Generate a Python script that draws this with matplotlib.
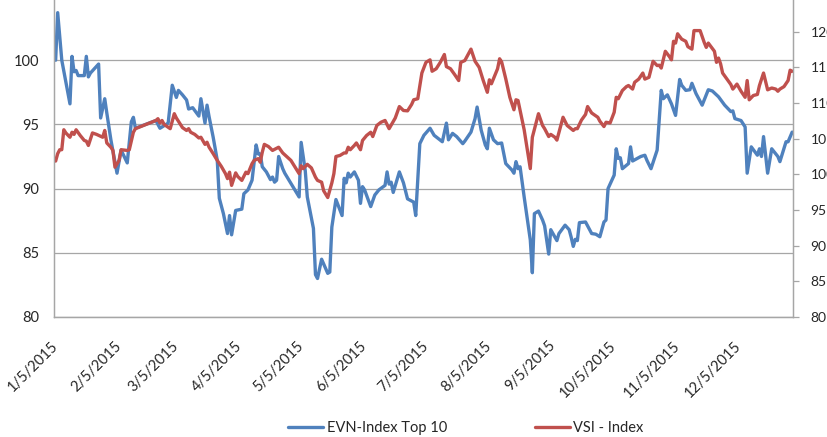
import matplotlib
matplotlib.use("Agg")
import matplotlib.pyplot as plt
import pandas as pd

plt.rcParams['font.family'] = ['Lato', 'DejaVu Sans']

# ---- data (day of year 2015, value) ----
evn_day = [
    5, 6, 8, 12, 13, 14, 15, 16, 19, 20,
    21, 22, 26, 27, 29, 30, 32, 35, 37, 40,
    42, 43, 44, 54, 56, 60, 62, 64, 65, 67,
    69, 70, 72, 75, 76, 78, 79, 80, 82, 84,
    85, 87, 89, 90, 91, 93, 96, 97, 99, 101,
    103, 104, 105, 106, 108, 110, 111, 112, 113, 114,
    116, 117, 124, 125, 127, 128, 131, 132, 133, 135,
    138, 139, 140, 142, 145, 146, 147, 148, 149, 151,
    153, 154, 155, 156, 159, 161, 163, 166, 167, 168,
    169, 170, 173, 175, 177, 180, 181, 183, 185, 188,
    190, 194, 196, 197, 199, 201, 204, 205, 208, 210,
    211, 213, 215, 216, 217, 219, 221, 223, 225, 228,
    229, 230, 231, 232, 234, 237, 238, 239, 241, 243,
    244, 246, 247, 250, 251, 254, 256, 257, 258, 259,
    260, 261, 264, 267, 269, 271, 273, 274, 275, 278,
    279, 280, 281, 282, 285, 286, 287, 291, 293, 294,
    296, 298, 299, 301, 302, 304, 306, 308, 310, 311,
    313, 315, 316, 318, 321, 322, 324, 326, 329, 332,
    335, 336, 337, 340, 342, 343, 345, 348, 349, 350,
    351, 353, 355, 357, 358, 359, 362, 363, 365,
]
evn_value = [
    100.0, 103.7, 100.0, 96.6, 100.3, 99.1, 99.2, 98.8, 98.8, 100.3,
    98.7, 99.0, 99.7, 95.5, 97.0, 95.9, 93.8, 91.2, 93.0, 92.0,
    95.2, 95.55, 94.7, 95.3, 94.7, 95.1, 98.05, 97.1, 97.65, 97.3,
    96.9, 96.2, 96.3, 95.65, 97.0, 95.1, 96.5, 95.6, 94.0, 92.2,
    89.25, 88.05, 86.5, 87.9, 86.4, 88.3, 88.4, 89.6, 89.9, 90.65,
    93.4, 92.7, 92.7, 91.7, 91.3, 90.7, 90.9, 90.5, 90.65, 92.5,
    91.55, 91.2, 89.35, 93.6, 91.4, 89.35, 86.9, 83.3, 83.0, 84.5,
    83.4, 83.5, 87.0, 89.15, 87.9, 90.8, 90.45, 91.2, 90.9, 91.3,
    90.65, 88.85, 90.15, 89.9, 88.6, 89.5, 89.9, 90.25, 91.3, 90.35,
    90.5, 89.7, 91.3, 90.45, 89.2, 88.95, 87.9, 93.5, 94.15, 94.7,
    94.15, 93.65, 95.1, 93.8, 94.3, 94.05, 93.5, 93.7, 94.4, 95.45,
    96.35, 94.55, 93.4, 93.1, 94.7, 93.8, 93.5, 93.55, 91.95, 91.45,
    91.2, 92.1, 91.55, 91.7, 89.35, 86.0, 83.45, 88.05, 88.25, 87.55,
    87.1, 84.9, 86.8, 85.95, 86.5, 87.15, 86.8, 86.2, 85.5, 86.05,
    85.95, 87.35, 87.4, 86.5, 86.45, 86.25, 87.4, 87.55, 90.0, 91.05,
    93.1, 92.35, 92.4, 91.55, 91.95, 93.25, 92.15, 92.5, 92.6, 92.2,
    91.55, 92.5, 93.0, 97.65, 97.0, 97.3, 96.6, 95.7, 98.5, 98.05,
    97.65, 97.7, 98.2, 97.4, 96.5, 96.9, 97.7, 97.6, 97.15, 96.5,
    96.0, 96.05, 95.45, 95.3, 94.8, 91.2, 93.25, 92.6, 93.1, 92.5,
    94.05, 91.2, 93.1, 92.7, 92.5, 92.1, 93.65, 93.65, 94.4,
]

vsi_day = [
    5, 6, 7, 8, 9, 10, 12, 13, 14, 15,
    17, 19, 20, 21, 23, 25, 28, 29, 30, 32,
    33, 34, 36, 37, 40, 41, 43, 44, 51, 54,
    55, 56, 57, 58, 61, 63, 64, 66, 67, 69,
    70, 71, 73, 75, 76, 78, 79, 80, 82, 84,
    86, 88, 89, 90, 91, 93, 94, 96, 98, 99,
    101, 102, 104, 105, 106, 107, 109, 111, 114, 116,
    120, 124, 125, 126, 128, 130, 132, 133, 135, 136,
    138, 140, 141, 142, 144, 146, 147, 148, 149, 151,
    152, 154, 155, 157, 159, 160, 162, 164, 166, 168,
    171, 173, 175, 177, 179, 180, 182, 184, 186, 188,
    189, 191, 193, 195, 196, 198, 200, 202, 203, 205,
    208, 210, 212, 214, 216, 217, 218, 221, 222, 223,
    225, 227, 229, 230, 231, 234, 237, 238, 241, 243,
    244, 246, 247, 249, 250, 253, 255, 258, 259, 260,
    262, 264, 265, 267, 270, 271, 273, 274, 276, 278,
    279, 280, 282, 284, 285, 287, 288, 290, 292, 293,
    295, 297, 299, 300, 301, 303, 305, 306, 307, 308,
    309, 311, 313, 314, 316, 317, 320, 322, 323, 324,
    327, 328, 329, 330, 331, 333, 335, 336, 338, 340,
    342, 343, 344, 346, 348, 349, 351, 353, 355, 357,
    358, 359, 361, 363, 364, 365,
]
vsi_value = [
    101.86, 102.9, 103.45, 103.45, 106.25, 105.8, 105.2, 105.9, 105.6, 106.25,
    105.45, 104.75, 104.65, 104.05, 105.8, 105.6, 105.2, 106.15, 104.4, 103.8,
    103.35, 101.0, 101.95, 103.45, 103.35, 103.45, 105.9, 106.4, 107.2, 107.55,
    107.8, 107.2, 107.55, 107.0, 106.4, 108.5, 107.9, 107.0, 106.55, 106.15,
    106.4, 105.9, 105.6, 105.1, 105.2, 104.2, 104.5, 103.8, 102.9, 101.95,
    101.1, 100.1, 99.4, 100.3, 98.45, 100.2, 99.7, 99.15, 100.3, 100.1,
    101.5, 101.95, 102.2, 101.7, 103.1, 104.2, 103.9, 103.35, 103.8, 103.0,
    101.95, 100.1, 101.2, 100.8, 101.4, 100.9, 99.6, 99.15, 98.9, 97.7,
    96.75, 98.8, 100.1, 102.5, 102.65, 103.0, 103.0, 103.8, 103.45, 104.05,
    104.4, 103.45, 104.75, 105.45, 105.9, 105.3, 106.85, 107.3, 107.55, 106.4,
    107.9, 109.5, 108.95, 108.9, 109.8, 110.45, 110.6, 114.2, 115.7, 116.05,
    114.45, 114.8, 115.7, 116.8, 115.1, 114.8, 114.0, 113.15, 115.7, 115.95,
    117.55, 115.85, 115.0, 113.15, 111.5, 113.25, 112.7, 114.8, 116.2, 115.75,
    113.4, 110.8, 109.05, 110.45, 110.35, 106.25, 100.8, 105.2, 108.5, 106.85,
    106.4, 105.3, 105.6, 105.2, 104.8, 108.0, 106.85, 106.15, 106.4, 106.4,
    107.6, 108.4, 109.5, 108.6, 108.0, 107.45, 106.7, 107.3, 107.2, 108.7,
    110.8, 110.6, 111.75, 112.3, 112.45, 111.95, 112.9, 113.35, 114.2, 113.35,
    113.6, 115.85, 115.25, 115.3, 114.9, 117.25, 116.5, 116.05, 118.65, 118.4,
    119.7, 118.95, 118.65, 117.9, 117.55, 120.15, 120.15, 118.5, 117.8, 118.4,
    117.25, 115.7, 116.3, 115.5, 114.2, 113.4, 112.6, 111.95, 112.65, 111.65,
    110.8, 113.15, 110.45, 111.05, 111.2, 112.45, 114.2, 111.85, 112.1, 111.95,
    111.65, 111.95, 112.3, 113.15, 114.6, 114.45,
]

series_names = ["EVN-Index Top 10", "VSI - Index"]
tick_dates = ["2015-01-05", "2015-02-05", "2015-03-05", "2015-04-05",
              "2015-05-05", "2015-06-05", "2015-07-05", "2015-08-05",
              "2015-09-05", "2015-10-05", "2015-11-05", "2015-12-05"]
left_ticks = [80, 85, 90, 95, 100]
right_ticks = [80, 85, 90, 95, 100, 105, 110, 115, 120]

# ---- build ----
base = pd.Timestamp("2014-12-31")
evn_dates = base + pd.to_timedelta(evn_day, unit="D")
vsi_dates = base + pd.to_timedelta(vsi_day, unit="D")
ticks = pd.to_datetime(tick_dates)

BLUE = "#4F81BD"
RED = "#C0504D"
GRID = "#A6A6A6"
SPINE = "#A6A6A6"
TEXT = "#262626"

fig = plt.figure(figsize=(8.27, 4.37), dpi=100)
ax = fig.add_axes([54 / 827, 1 - 317 / 437, (793 - 54) / 827, 321 / 437])
ax2 = ax.twinx()

l1, = ax.plot(evn_dates, evn_value, color=BLUE, lw=2.4,
              solid_joinstyle="round", solid_capstyle="round")
l2, = ax2.plot(vsi_dates, vsi_value, color=RED, lw=2.4,
               solid_joinstyle="round", solid_capstyle="round")

ax.set_ylim(80, 105)
ax2.set_ylim(80, 125)
ax.set_xlim(base + pd.Timedelta(days=4.2), base + pd.Timedelta(days=365.4))

ax.set_yticks(left_ticks)
ax2.set_yticks(right_ticks)
ax.set_xticks(ticks)
ax.set_xticklabels([f"{d.month}/{d.day}/{d.year}" for d in ticks])

ax.grid(axis="y", color=GRID, lw=0.9)
ax.set_axisbelow(True)

for a in (ax, ax2):
    for s in a.spines.values():
        s.set_color(SPINE)
        s.set_linewidth(0.9)
    a.spines["top"].set_visible(False)

ax.tick_params(axis="y", length=0, pad=10.5, labelsize=10.5, labelcolor=TEXT)
ax2.tick_params(axis="y", length=4.5, width=0.9, color=SPINE, pad=8.0,
                labelsize=10.0, labelcolor=TEXT)
ax.tick_params(axis="x", length=0, pad=19, labelsize=10.5, labelcolor=TEXT)
for lab in ax.get_xticklabels():
    lab.set_rotation(45)
    lab.set_ha("right")
    lab.set_va("center")
    lab.set_rotation_mode("anchor")

fig.legend([l1, l2], series_names, loc="center",
           bbox_to_anchor=(466 / 827, 1 - 428 / 437), ncol=2, frameon=False,
           handlelength=2.4, handletextpad=0.25, columnspacing=6,
           fontsize=10.5, labelcolor=TEXT)

fig.savefig("out.png", dpi=100)
